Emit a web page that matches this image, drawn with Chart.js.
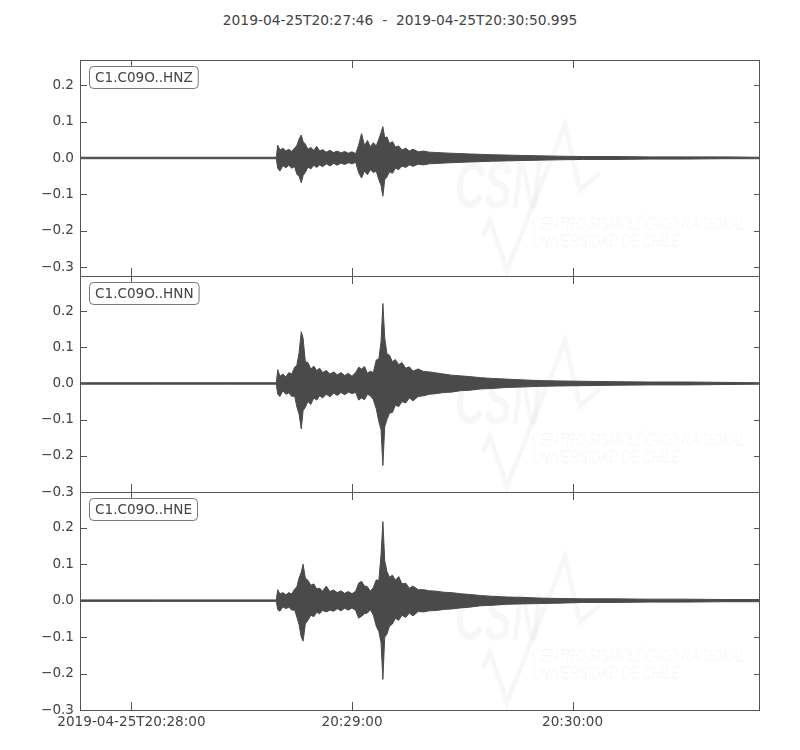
<!DOCTYPE html>
<html>
<head>
<meta charset="utf-8">
<title>C1.C09O</title>
<script src="https://cdn.jsdelivr.net/npm/chart.js@4.4.1/dist/chart.umd.min.js"></script>
<style>
  html, body { margin: 0; padding: 0; background: #fff; }
  #wrap { position: relative; width: 800px; height: 750px; }
  #wrap canvas { position: absolute; left: 0; top: 0; }
  #title {
    position: absolute; left: 0; top: 11px; width: 800px; text-align: center;
    font: 13.8px "DejaVu Sans"; line-height: 18px; color: #444; white-space: pre;
  }
</style>
</head>
<body>
<div id="wrap">
  <div id="title"></div>
  <canvas id="hnz" width="800" height="750"></canvas>
  <canvas id="hnn" width="800" height="750"></canvas>
  <canvas id="hne" width="800" height="750"></canvas>
</div>
<script>
// seconds after 2019-04-25T20:27:46
const times = [0, 20, 40, 53.4, 53.8, 54.4, 55.2, 56.0, 56.8, 57.6, 58.4, 59.0, 59.6,
  60.2, 60.7, 61.3, 62.0, 62.8, 63.6, 64.4, 65.2, 66.0, 67, 68, 69, 70, 71, 72, 73, 74, 75,
  75.8, 76.6, 77.4, 78.2, 79.0, 79.8, 80.6, 81.3, 81.9, 82.4, 82.9, 83.5, 84.2, 85.0, 85.8,
  86.7, 87.6, 88.6, 89.6, 90.6, 92, 93.5, 95, 97, 99, 101, 103.5, 106, 109, 112,
  116, 120, 125, 130, 137, 145, 155, 165, 175, 185];

// envelope of each trace (upper / lower)
const hnzUp = [0.002, 0.002, 0.002, 0.002, 0.035, 0.022, 0.027, 0.019, 0.024, 0.018, 0.028, 0.034, 0.052,
  0.063, 0.045, 0.038, 0.024, 0.029, 0.021, 0.032, 0.019, 0.023, 0.016, 0.021, 0.015, 0.019, 0.014, 0.018, 0.013, 0.017, 0.012,
  0.035, 0.067, 0.034, 0.048, 0.031, 0.042, 0.033, 0.052, 0.070, 0.086, 0.055, 0.058, 0.040, 0.045, 0.030,
  0.033, 0.022, 0.027, 0.019, 0.024, 0.017, 0.019, 0.016, 0.015, 0.014, 0.013, 0.012, 0.011, 0.010, 0.009,
  0.008, 0.007, 0.006, 0.005, 0.004, 0.004, 0.003, 0.003, 0.003, 0.002];
const hnzLo = [-0.002, -0.002, -0.002, -0.002, -0.028, -0.036, -0.021, -0.027, -0.020, -0.028, -0.024, -0.045, -0.050,
  -0.068, -0.048, -0.040, -0.025, -0.030, -0.020, -0.026, -0.019, -0.024, -0.016, -0.022, -0.015, -0.020, -0.014, -0.018, -0.013, -0.016, -0.012,
  -0.040, -0.055, -0.036, -0.046, -0.032, -0.040, -0.036, -0.060, -0.075, -0.105, -0.060, -0.052, -0.038, -0.042, -0.028,
  -0.032, -0.022, -0.026, -0.019, -0.023, -0.017, -0.019, -0.016, -0.015, -0.014, -0.013, -0.012, -0.011, -0.010, -0.009,
  -0.008, -0.007, -0.006, -0.005, -0.004, -0.004, -0.003, -0.003, -0.002, -0.002];

const hnnUp = [0.002, 0.002, 0.002, 0.002, 0.038, 0.020, 0.026, 0.018, 0.030, 0.026, 0.045, 0.050, 0.085,
  0.143, 0.125, 0.060, 0.058, 0.040, 0.048, 0.036, 0.042, 0.030, 0.036, 0.026, 0.032, 0.024, 0.030, 0.022, 0.028, 0.020, 0.030,
  0.045, 0.040, 0.047, 0.028, 0.034, 0.030, 0.065, 0.068, 0.115, 0.221, 0.126, 0.082, 0.078, 0.060, 0.066,
  0.052, 0.058, 0.042, 0.046, 0.034, 0.040, 0.033, 0.032, 0.029, 0.026, 0.023, 0.021, 0.019, 0.016, 0.014,
  0.012, 0.010, 0.008, 0.007, 0.006, 0.005, 0.004, 0.004, 0.003, 0.002];
const hnnLo = [-0.002, -0.002, -0.002, -0.002, -0.030, -0.036, -0.020, -0.030, -0.026, -0.036, -0.035, -0.065, -0.085,
  -0.126, -0.075, -0.066, -0.050, -0.058, -0.040, -0.046, -0.034, -0.040, -0.030, -0.037, -0.027, -0.033, -0.025, -0.031, -0.024, -0.028, -0.025,
  -0.046, -0.040, -0.045, -0.030, -0.034, -0.045, -0.070, -0.105, -0.128, -0.227, -0.120, -0.100, -0.082, -0.080, -0.060,
  -0.064, -0.050, -0.054, -0.040, -0.048, -0.036, -0.034, -0.030, -0.028, -0.025, -0.024, -0.020, -0.019, -0.015, -0.014,
  -0.011, -0.010, -0.008, -0.007, -0.006, -0.005, -0.004, -0.004, -0.003, -0.002];

const hneUp = [0.002, 0.002, 0.002, 0.002, 0.030, 0.018, 0.022, 0.016, 0.022, 0.018, 0.032, 0.038, 0.062,
  0.078, 0.100, 0.062, 0.056, 0.042, 0.046, 0.032, 0.034, 0.026, 0.040, 0.025, 0.029, 0.022, 0.027, 0.020, 0.025, 0.019, 0.026,
  0.048, 0.053, 0.040, 0.038, 0.026, 0.036, 0.057, 0.055, 0.125, 0.217, 0.110, 0.080, 0.064, 0.070, 0.056,
  0.066, 0.046, 0.048, 0.034, 0.040, 0.030, 0.030, 0.027, 0.026, 0.023, 0.022, 0.019, 0.017, 0.014, 0.012,
  0.010, 0.009, 0.007, 0.006, 0.005, 0.005, 0.004, 0.004, 0.003, 0.003];
const hneLo = [-0.002, -0.002, -0.002, -0.002, -0.025, -0.029, -0.017, -0.022, -0.018, -0.026, -0.026, -0.045, -0.066,
  -0.100, -0.111, -0.064, -0.054, -0.040, -0.044, -0.032, -0.036, -0.027, -0.031, -0.026, -0.029, -0.022, -0.028, -0.021, -0.026, -0.020, -0.027,
  -0.048, -0.043, -0.036, -0.034, -0.025, -0.040, -0.070, -0.085, -0.115, -0.216, -0.100, -0.092, -0.070, -0.064, -0.048,
  -0.054, -0.040, -0.046, -0.034, -0.042, -0.030, -0.031, -0.028, -0.027, -0.024, -0.023, -0.020, -0.018, -0.014, -0.013,
  -0.010, -0.009, -0.008, -0.007, -0.005, -0.005, -0.004, -0.004, -0.003, -0.003];

const xTickValues = [14, 74, 134];
const xTickLabels = ['2019-04-25T20:28:00', '20:29:00', '20:30:00'];
const yTickValues = [-0.3, -0.2, -0.1, 0, 0.1, 0.2];
const titleText = '2019-04-25T20:27:46  -  2019-04-25T20:30:50.995';

const FONT = 'DejaVu Sans';
const INK = '#444444';
const TRACE = '#4a4a4a';
const EDGE = '#555555';

Chart.defaults.font.family = FONT;
Chart.defaults.font.size = 13.6;
Chart.defaults.color = INK;

document.getElementById('title').textContent = titleText;

function fmt(v) {
    const s = Math.abs(v).toFixed(1);
    return v < -1e-9 ? '\u2212' + s : s;
}

// faint CSN logo behind each trace
const watermark = {
    id: 'watermark',
    beforeDatasetsDraw(chart) {
        const { ctx, chartArea: a } = chart;
        ctx.save();
        ctx.beginPath();
        ctx.rect(a.left, a.top, a.right - a.left, a.bottom - a.top);
        ctx.clip();
        ctx.fillStyle = 'rgba(0,0,0,0.03)';
        ctx.strokeStyle = 'rgba(0,0,0,0.03)';

        ctx.save();
        ctx.translate(a.left + 375, a.top + 148);
        ctx.scale(0.62, 1);
        ctx.font = 'italic bold 66px "Liberation Sans"';
        ctx.fillText('CSN', 0, 0);
        ctx.restore();

        ctx.save();
        ctx.translate(a.left + 452, a.top + 170);
        ctx.scale(0.7, 1);
        ctx.font = 'italic 18px "Liberation Sans"';
        ctx.fillText('CENTRO SISMOLÓGICO NACIONAL', 0, 0);
        ctx.fillText('UNIVERSIDAD DE CHILE', 0, 17);
        ctx.restore();

        ctx.lineWidth = 5;
        ctx.beginPath();
        ctx.moveTo(a.left + 403, a.top + 177);
        ctx.lineTo(a.left + 410, a.top + 160);
        ctx.lineTo(a.left + 427, a.top + 210);
        ctx.lineTo(a.left + 485, a.top + 65);
        ctx.lineTo(a.left + 500, a.top + 130);
        ctx.lineTo(a.left + 520, a.top + 113);
        ctx.stroke();
        ctx.restore();
    }
};

// frame, inward ticks and station label
const frame = {
    id: 'frame',
    afterDraw(chart, args, opts) {
        const { ctx, chartArea: a } = chart;
        const x = chart.scales.x, y = chart.scales.y;
        ctx.save();
        ctx.strokeStyle = EDGE;
        ctx.lineWidth = 1;
        ctx.strokeRect(a.left + 0.5, a.top + 0.5, a.right - a.left - 1, a.bottom - a.top);
        ctx.beginPath();
        yTickValues.forEach(v => {
            const py = Math.round(y.getPixelForValue(v)) + 0.5;
            ctx.moveTo(a.left, py); ctx.lineTo(a.left + 7, py);
            ctx.moveTo(a.right, py); ctx.lineTo(a.right - 6, py);
        });
        xTickValues.forEach(v => {
            const px = Math.round(x.getPixelForValue(v)) + 0.5;
            ctx.moveTo(px, a.top); ctx.lineTo(px, a.top + 8);
            ctx.moveTo(px, a.bottom); ctx.lineTo(px, a.bottom - 8);
        });
        ctx.stroke();

        ctx.font = '13.6px ' + FONT;
        const w = ctx.measureText(opts.label).width;
        const bx = a.left + 9.5, by = a.top + 6.5, bw = w + 11, bh = 22;
        ctx.beginPath();
        if (ctx.roundRect) ctx.roundRect(bx, by, bw, bh, 4);
        else ctx.rect(bx, by, bw, bh);
        ctx.fillStyle = '#ffffff';
        ctx.fill();
        ctx.strokeStyle = '#777777';
        ctx.stroke();
        ctx.fillStyle = INK;
        ctx.textBaseline = 'middle';
        ctx.fillText(opts.label, bx + 5.5, by + bh / 2 + 0.5);
        ctx.restore();
    }
};

function drawPanel(id, label, up, lo, yMin, yMax, pad, withXLabels) {
    const canvas = document.getElementById(id);

    new Chart(canvas, {
        type: 'line',
        data: {
            datasets: [{
                data: times.map((t, i) => ({ x: t, y: up[i] })),
                borderColor: TRACE,
                backgroundColor: TRACE,
                borderWidth: 1,
                fill: '+1'
            }, {
                data: times.map((t, i) => ({ x: t, y: lo[i] })),
                borderColor: TRACE,
                backgroundColor: TRACE,
                borderWidth: 1,
                fill: false
            }]
        },
        plugins: [watermark, frame],
        options: {
            responsive: false,
            animation: false,
            events: [],
            layout: { padding: pad },
            elements: { point: { radius: 0 }, line: { tension: 0 } },
            plugins: {
                legend: { display: false },
                tooltip: { enabled: false },
                title: { display: false },
                frame: { label: label }
            },
            scales: {
                x: {
                    type: 'linear',
                    min: 0,
                    max: 184.995,
                    display: withXLabels,
                    grid: { display: false, drawTicks: false },
                    border: { display: false },
                    afterBuildTicks: s => { s.ticks = xTickValues.map(v => ({ value: v })); },
                    afterFit: s => { if (withXLabels) s.height = 40; },
                    ticks: {
                        autoSkip: false,
                        maxRotation: 0,
                        padding: 4,
                        color: INK,
                        callback: (v, i) => xTickLabels[i]
                    }
                },
                y: {
                    min: yMin,
                    max: yMax,
                    grid: { display: false, drawTicks: false },
                    border: { display: false },
                    afterBuildTicks: s => { s.ticks = yTickValues.map(v => ({ value: v })); },
                    afterFit: s => { s.width = 80; },
                    ticks: {
                        padding: 6,
                        color: INK,
                        callback: v => fmt(v)
                    }
                }
            }
        }
    });
}

drawPanel('hnz', 'C1.C09O..HNZ', hnzUp, hnzLo, -0.324, 0.269,
    { top: 60, bottom: 474, left: 0, right: 40 }, false);
drawPanel('hnn', 'C1.C09O..HNN', hnnUp, hnnLo, -0.3, 0.297,
    { top: 276, bottom: 258, left: 0, right: 40 }, false);
drawPanel('hne', 'C1.C09O..HNE', hneUp, hneLo, -0.3, 0.298,
    { top: 492, bottom: 0, left: 0, right: 40 }, true);
</script>
</body>
</html>
